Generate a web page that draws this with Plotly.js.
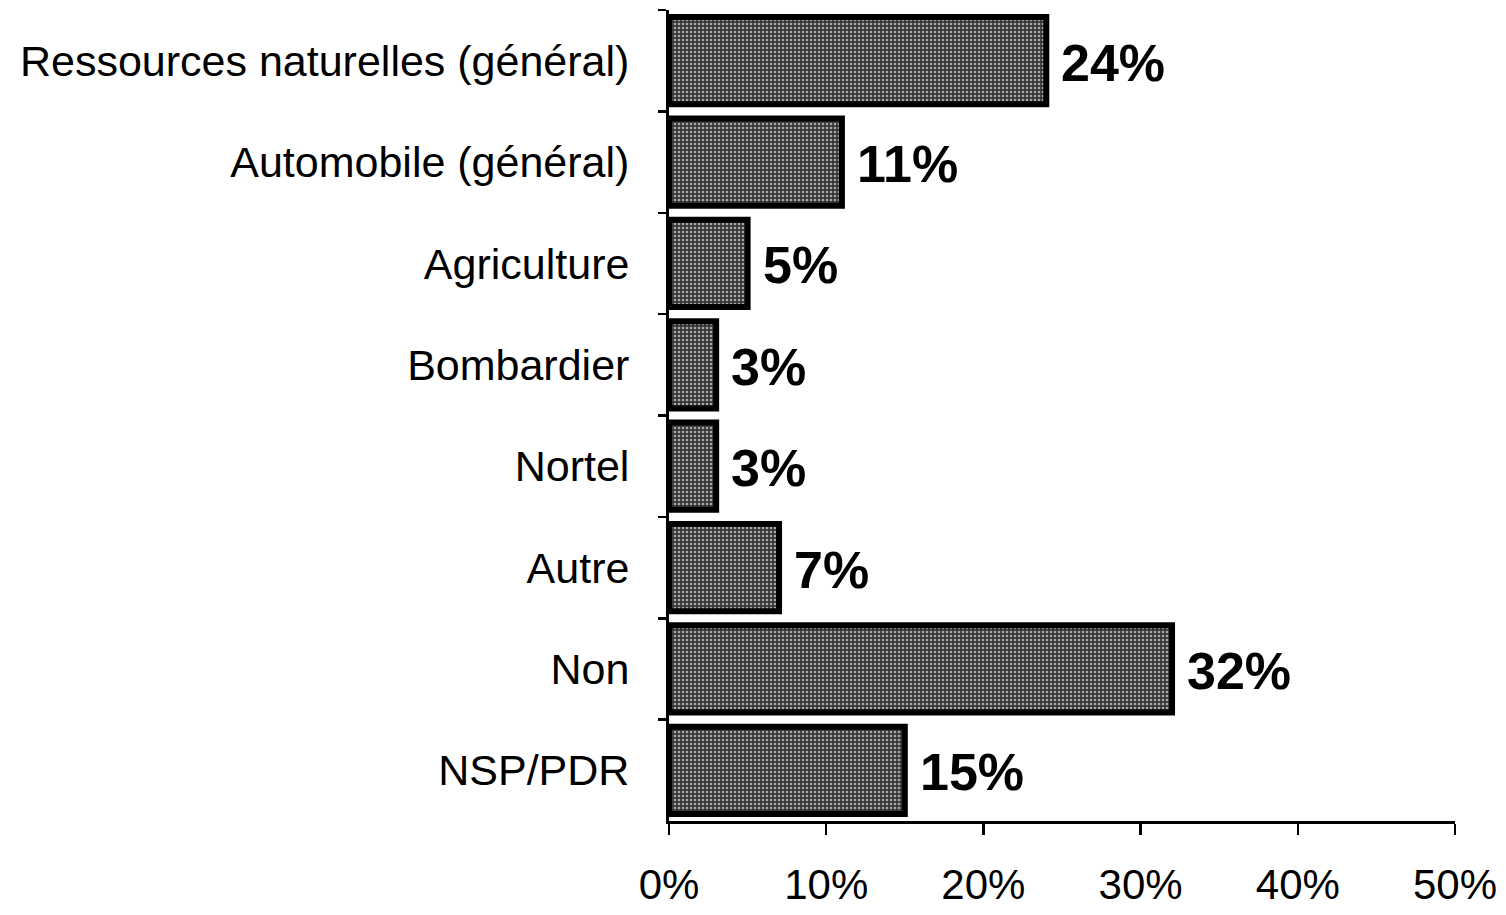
<!DOCTYPE html>
<html>
<head>
<meta charset="utf-8">
<script src="https://cdn.plot.ly/plotly-3.0.1.min.js"></script>
<style>html,body{margin:0;padding:0;background:#fff;}#chart{width:1506px;height:915px;}</style>
</head>
<body>
<div id="chart"></div>
<script>
const categories = ["Ressources naturelles (général)", "Automobile (général)", "Agriculture", "Bombardier", "Nortel", "Autre", "Non", "NSP/PDR"];
const values = [24, 11, 5, 3, 3, 7, 32, 15];
const valueLabels = values.map(v => v + "%");
const tickVals = [0, 10, 20, 30, 40, 50];
const tickText = ["0%", "10%", "20%", "30%", "40%", "50%"];

const trace = {
  type: "bar",
  orientation: "h",
  x: values,
  y: categories,
  marker: {
    color: "#404040",
    line: {color: "#000000", width: 6},
    pattern: {shape: ".", fgcolor: "#a8a8a8", bgcolor: "#363636", size: 4, solidity: 0.35}
  },
  hoverinfo: "skip"
};

const annotations = values.map((v, i) => ({
  x: v, y: categories[i], xref: "x", yref: "y",
  text: valueLabels[i], showarrow: false,
  xanchor: "left", yanchor: "middle", xshift: 13, yshift: -2,
  font: {family: "Liberation Sans, Arial, sans-serif", size: 52, color: "#000", weight: "bold"}
}));

const layout = {
  width: 1506, height: 915,
  margin: {l: 669, r: 51, t: 10, b: 94},
  paper_bgcolor: "#ffffff", plot_bgcolor: "#ffffff",
  showlegend: false,
  bargap: 0.14,
  font: {family: "Liberation Sans, Arial, sans-serif", color: "#000"},
  xaxis: {
    range: [0, 50], tickvals: tickVals, ticktext: tickText,
    showgrid: false, zeroline: false,
    showline: true, linecolor: "#000", linewidth: 3,
    ticks: "outside", ticklen: 11, tickwidth: 2.5, tickcolor: "#000",
    ticklabelstandoff: 14,
    tickfont: {size: 42, color: "#000"},
    fixedrange: true
  },
  yaxis: {
    type: "category", autorange: "reversed",
    showgrid: false, zeroline: false,
    showline: true, linecolor: "#000", linewidth: 3,
    ticks: "outside", tickson: "boundaries", ticklen: 8, tickwidth: 2.5, tickcolor: "#000",
    ticklabelstandoff: 28,
    tickfont: {size: 43, color: "#000"},
    fixedrange: true
  },
  annotations: annotations
};

Plotly.newPlot("chart", [trace], layout, {displayModeBar: false, staticPlot: true});
</script>
</body>
</html>
